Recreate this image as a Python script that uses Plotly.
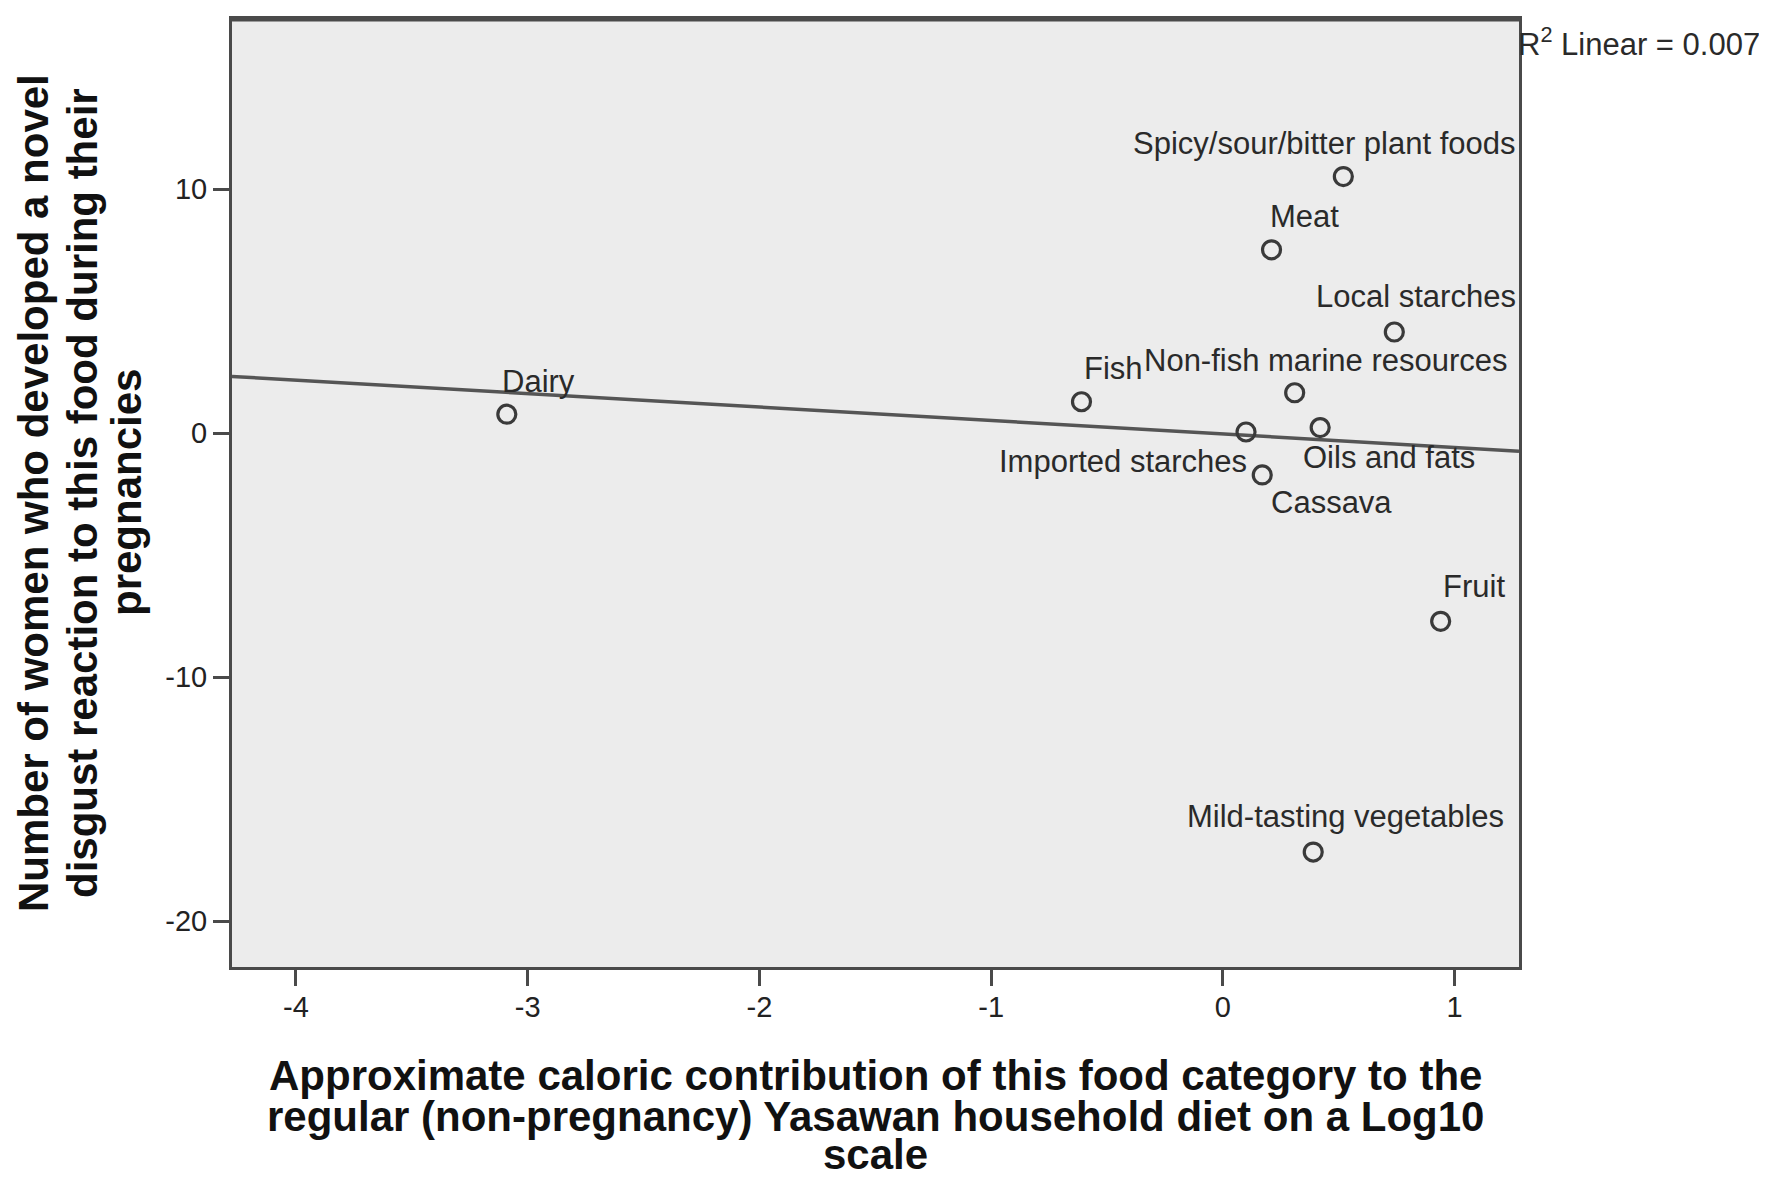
import numpy as np
import plotly.graph_objects as go

# ---- data ----
foods = ["Dairy", "Fish", "Non-fish marine resources", "Imported starches",
         "Oils and fats", "Cassava", "Spicy/sour/bitter plant foods", "Meat",
         "Local starches", "Fruit", "Mild-tasting vegetables"]
log_calories = [-3.09, -0.61, 0.31, 0.10, 0.42, 0.17, 0.52, 0.21, 0.74, 0.94, 0.39]
disgust_count = [0.78, 1.29, 1.66, 0.05, 0.23, -1.71, 10.52, 7.52, 4.15, -7.71, -17.17]
x_ticks = [-4, -3, -2, -1, 0, 1]
x_tick_labels = ["-4", "-3", "-2", "-1", "0", "1"]
y_ticks = [-20, -10, 0, 10]
y_tick_labels = ["-20", "-10", "0", "10"]
r2_text = "R<sup>2</sup> Linear = 0.007"
x_title_lines = ["Approximate caloric contribution of this food category to the",
                 "regular (non-pregnancy) Yasawan household diet on a Log10",
                 "scale"]
y_title_lines = ["Number of women who developed a novel",
                 "disgust reaction to this food during their",
                 "pregnancies"]

# label placement offsets (pixels, label centre relative to its point; +dy = down)
label_offsets = {
    "Dairy": (32, -33), "Fish": (32, -33), "Non-fish marine resources": (31, -32),
    "Spicy/sour/bitter plant foods": (-19, -33), "Meat": (33, -33),
    "Local starches": (22, -35), "Imported starches": (-123, 29),
    "Oils and fats": (69, 30), "Cassava": (69, 28), "Fruit": (33, -35),
    "Mild-tasting vegetables": (32, -36),
}

OFF = 8  # default page body margin
PAGE_W, PAGE_H = 1767, 1178
W, H = PAGE_W - OFF, PAGE_H - OFF
# plot-area edges in page pixels
L, R, T, B = 232, 1519, 16, 967
X_RANGE = [-4.276, 1.278]
Y_RANGE = [-21.88, 16.98]

FONT = "Liberation Sans, Arial, sans-serif"
DARK = "#3a3a3a"

xs = np.array(log_calories)
ys = np.array(disgust_count)
slope, intercept = np.polyfit(xs, ys, 1)
line_x = np.array(X_RANGE)
line_y = slope * line_x + intercept

fig = go.Figure()
fig.add_trace(go.Scatter(x=line_x, y=line_y, mode="lines",
                         line=dict(color="#555555", width=3.5),
                         hoverinfo="skip", showlegend=False))
fig.add_trace(go.Scatter(x=xs, y=ys, mode="markers", text=foods,
                         marker=dict(symbol="circle-open", size=18,
                                     color=DARK, line=dict(width=3.2, color=DARK)),
                         showlegend=False, cliponaxis=False))

annotations = []
for name, xv, yv in zip(foods, log_calories, disgust_count):
    dx, dy = label_offsets[name]
    annotations.append(dict(x=xv, y=yv, xref="x", yref="y", text=name,
                            showarrow=False, xanchor="center", yanchor="middle",
                            xshift=dx, yshift=-dy,
                            font=dict(family=FONT, size=31, color="#2a2a2a")))

def px_to_paper_x(px):
    return (px - L) / (R - L)

def px_to_paper_y(py):
    return (B - py) / (B - T)

# R^2 label
annotations.append(dict(x=px_to_paper_x(1516), y=px_to_paper_y(39), xref="paper",
                        yref="paper", text=r2_text, showarrow=False,
                        xanchor="left", yanchor="middle",
                        font=dict(family=FONT, size=31, color="#2a2a2a")))

# x-axis title (one annotation per line for SPSS-like tight spacing)
for line, cy in zip(x_title_lines, [1076, 1117, 1155]):
    annotations.append(dict(x=0.5, y=px_to_paper_y(cy), xref="paper", yref="paper",
                            text="<b>%s</b>" % line, showarrow=False,
                            xanchor="center", yanchor="middle",
                            font=dict(family=FONT, size=42, color="#111111")))
# y-axis title
for line, cx in zip(y_title_lines, [33, 82, 126]):
    annotations.append(dict(x=px_to_paper_x(cx), y=0.5, xref="paper", yref="paper",
                            text="<b>%s</b>" % line, showarrow=False, textangle=-90,
                            xanchor="center", yanchor="middle",
                            font=dict(family=FONT, size=42, color="#111111")))

axis_common = dict(showgrid=False, zeroline=False, showline=True, mirror=True,
                   linecolor="#4a4a4a", linewidth=3, ticks="outside", ticklen=16,
                   tickwidth=3, tickcolor="#4a4a4a", tickmode="array",
                   tickfont=dict(family=FONT, size=29, color="#222222"))

fig.update_layout(
    width=W, height=H,
    margin=dict(l=L - OFF, r=PAGE_W - R, t=T - OFF, b=PAGE_H - B, pad=0),
    paper_bgcolor="white",
    plot_bgcolor="#ececec",
    font=dict(family=FONT),
    xaxis=dict(range=X_RANGE, tickvals=x_ticks, ticktext=x_tick_labels,
               ticklabelstandoff=-4, **axis_common),
    yaxis=dict(range=Y_RANGE, tickvals=y_ticks, ticktext=y_tick_labels, **axis_common),
    annotations=annotations,
    shapes=[dict(type="line", xref="paper", yref="paper", x0=0, x1=1, y0=1, y1=1,
                 line=dict(color="#4a4a4a", width=5))],
    showlegend=False,
)

fig.write_html("out.html")
